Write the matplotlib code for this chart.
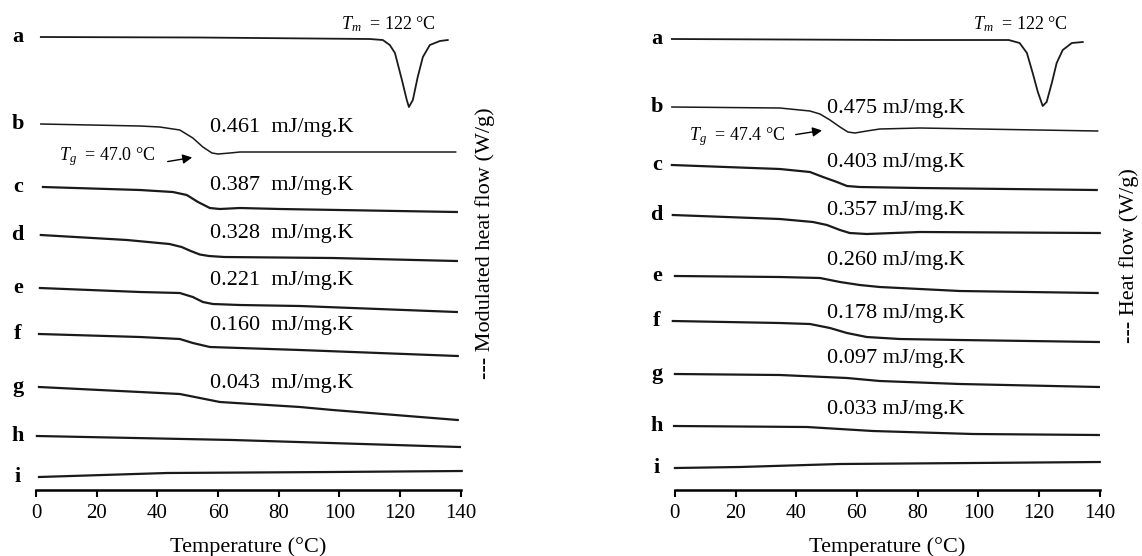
import matplotlib
matplotlib.use("Agg")
import matplotlib.pyplot as plt

plt.rcParams['font.family'] = ['Liberation Serif', 'DejaVu Serif']
plt.rcParams['mathtext.fontset'] = 'custom'
plt.rcParams['mathtext.rm'] = 'Liberation Serif'
plt.rcParams['mathtext.it'] = 'Liberation Serif:italic'

# curves: temperature (degC) and stacked heat flow (W/g, offset)
left_curves = {
    "a": ([1.6, 54, 110, 114.3, 116.6, 118.3, 120.6, 122.2, 122.9, 124.2, 125.8, 127.5, 129.8, 133.1, 135.7],
          [4.53, 4.525, 4.51, 4.50, 4.45, 4.37, 4.10, 3.90, 3.83, 3.90, 4.13, 4.33, 4.45, 4.49, 4.50]),
    "b": ([1.6, 34.3, 40.8, 47.4, 51.7, 55.0, 58.0, 60.0, 63.9, 67.2, 80.4, 138.3],
          [3.66, 3.64, 3.63, 3.60, 3.52, 3.43, 3.37, 3.36, 3.37, 3.38, 3.38, 3.38]),
    "c": ([2.3, 34.3, 45.1, 49.7, 53.4, 57.3, 60.6, 67.2, 80.4, 138.7],
          [3.03, 3.00, 2.98, 2.95, 2.88, 2.82, 2.81, 2.82, 2.81, 2.78]),
    "d": ([1.6, 30, 44, 48, 51, 54, 57, 62, 97.8, 138.7],
          [2.55, 2.50, 2.46, 2.43, 2.39, 2.355, 2.34, 2.33, 2.32, 2.29]),
    "e": ([1.3, 34.3, 47.4, 51.7, 55.0, 58.3, 67.2, 87.0, 138.7],
          [2.02, 1.98, 1.97, 1.93, 1.88, 1.86, 1.85, 1.84, 1.78]),
    "f": ([1.0, 34.3, 47.4, 51.7, 57.3, 67.2, 87.0, 139],
          [1.56, 1.53, 1.51, 1.47, 1.43, 1.42, 1.40, 1.34]),
    "g": ([1.0, 34.3, 47.4, 54.0, 60.6, 87.0, 97.8, 139],
          [1.03, 0.98, 0.96, 0.92, 0.88, 0.83, 0.80, 0.70]),
    "h": ([0.3, 64.9, 139.7], [0.54, 0.50, 0.43]),
    "i": ([1.0, 43.1, 97.8, 140.3], [0.13, 0.17, 0.18, 0.19]),
}
right_curves = {
    "a": ([-1.0, 74.1, 110, 113.6, 116.0, 117.9, 119.6, 121.2, 122.5, 124.2, 125.8, 127.8, 130.8, 134.4],
          [4.51, 4.50, 4.50, 4.47, 4.37, 4.17, 3.98, 3.84, 3.88, 4.07, 4.27, 4.40, 4.47, 4.48]),
    "b": ([-1.0, 34.6, 44.5, 47.8, 51.1, 54.4, 57.0, 59.3, 63.2, 67.5, 80.7, 139.3],
          [3.83, 3.82, 3.79, 3.76, 3.70, 3.63, 3.58, 3.57, 3.59, 3.61, 3.62, 3.59]),
    "c": ([-1.0, 34.6, 44.5, 48.8, 53.4, 56.7, 60.9, 80.7, 139],
          [3.25, 3.21, 3.18, 3.13, 3.08, 3.04, 3.03, 3.02, 3.00]),
    "d": ([-0.7, 34.6, 45.5, 50.1, 54.4, 57.6, 63.2, 80.7, 140],
          [2.75, 2.71, 2.68, 2.65, 2.60, 2.57, 2.56, 2.58, 2.57]),
    "e": ([0, 34.6, 47.8, 54.4, 60.9, 67.5, 80.7, 93.9, 139.3],
          [2.14, 2.13, 2.12, 2.08, 2.05, 2.03, 2.01, 1.99, 1.97]),
    "f": ([-0.7, 34.6, 44.5, 51.1, 56.7, 63.2, 74.1, 93.9, 139.7],
          [1.69, 1.67, 1.66, 1.62, 1.57, 1.53, 1.51, 1.50, 1.48]),
    "g": ([0, 34.6, 56.7, 67.5, 93.9, 139.7],
          [1.16, 1.15, 1.12, 1.09, 1.06, 1.03]),
    "h": ([-0.3, 43.5, 65.2, 98.2, 139.7], [0.64, 0.63, 0.59, 0.56, 0.55]),
    "i": ([0, 21.4, 54.4, 98.2, 140], [0.22, 0.23, 0.26, 0.27, 0.28]),
}

left_cp = ["0.461  mJ/mg.K", "0.387  mJ/mg.K", "0.328  mJ/mg.K",
           "0.221  mJ/mg.K", "0.160  mJ/mg.K", "0.043  mJ/mg.K"]
left_cp_y = [3.63, 3.05, 2.57, 2.10, 1.65, 1.07]
right_cp = ["0.475 mJ/mg.K", "0.403 mJ/mg.K", "0.357 mJ/mg.K", "0.260 mJ/mg.K",
            "0.178 mJ/mg.K", "0.097 mJ/mg.K", "0.033 mJ/mg.K"]
right_cp_y = [3.82, 3.28, 2.80, 2.30, 1.77, 1.32, 0.81]

xticks = [0, 20, 40, 60, 80, 100, 120, 140]

fig = plt.figure(figsize=(11.42, 5.56), dpi=100)
ax1 = fig.add_axes([0.0315, 0.1187, 0.372, 0.8633])
ax2 = fig.add_axes([0.591, 0.1187, 0.372, 0.8633])


def draw(ax, curves, cp, cp_y, cp_x, tm_x, tg_text, tg_xy, arrow_from, arrow_to, ylab, ylab_x, ylab_y):
    for k, (t, hf) in curves.items():
        lw = 1.1 if k == "b" else (1.3 if k == "a" else 1.6)
        ax.plot(t, hf, color="#1a1a1a", lw=lw, clip_on=False, solid_joinstyle="round")
        ax.text(-6, hf[0], k, fontsize=16, fontweight="bold", ha="center", va="center")
    for s, y in zip(cp, cp_y):
        ax.text(cp_x, y, s, fontsize=16, ha="left", va="center")
    ax.text(tm_x, 4.66, r"$T_m$  = 122 °C", fontsize=13, ha="center", va="center")
    ax.text(tg_xy[0], tg_xy[1], tg_text, fontsize=13, ha="left", va="center")
    ax.annotate("", xy=arrow_to, xytext=arrow_from,
                arrowprops=dict(arrowstyle="-|>", color="black", lw=1.0, mutation_scale=14))
    ax.set_xlim(0, 140)
    ax.set_ylim(0, 4.8)
    ax.set_xticks(xticks)
    ax.tick_params(axis="x", labelsize=15, width=1.5, length=5, pad=5)
    ax.set_yticks([])
    for s in ("top", "left", "right"):
        ax.spines[s].set_visible(False)
    ax.spines["bottom"].set_linewidth(1.8)
    ax.set_xlabel("Temperature (°C)", fontsize=16, labelpad=10)
    ax.text(ylab_x, ylab_y, ylab, fontsize=16, rotation=90, ha="center", va="center",
            transform=ax.transAxes)


draw(ax1, left_curves, left_cp, left_cp_y, 57.3, 116, r"$T_g$  = 47.0 °C", (7.5, 3.33),
     (42.5, 3.28), (52.4, 3.33), "--- Modulated heat flow (W/g)", 1.056, 0.515)
draw(ax2, right_curves, right_cp, right_cp_y, 50.0, 114, r"$T_g$  = 47.4 °C", (4.5, 3.53),
     (38.9, 3.55), (49.4, 3.60), "--- Heat flow (W/g)", 1.07, 0.4875)

fig.savefig("out.png", dpi=100)
